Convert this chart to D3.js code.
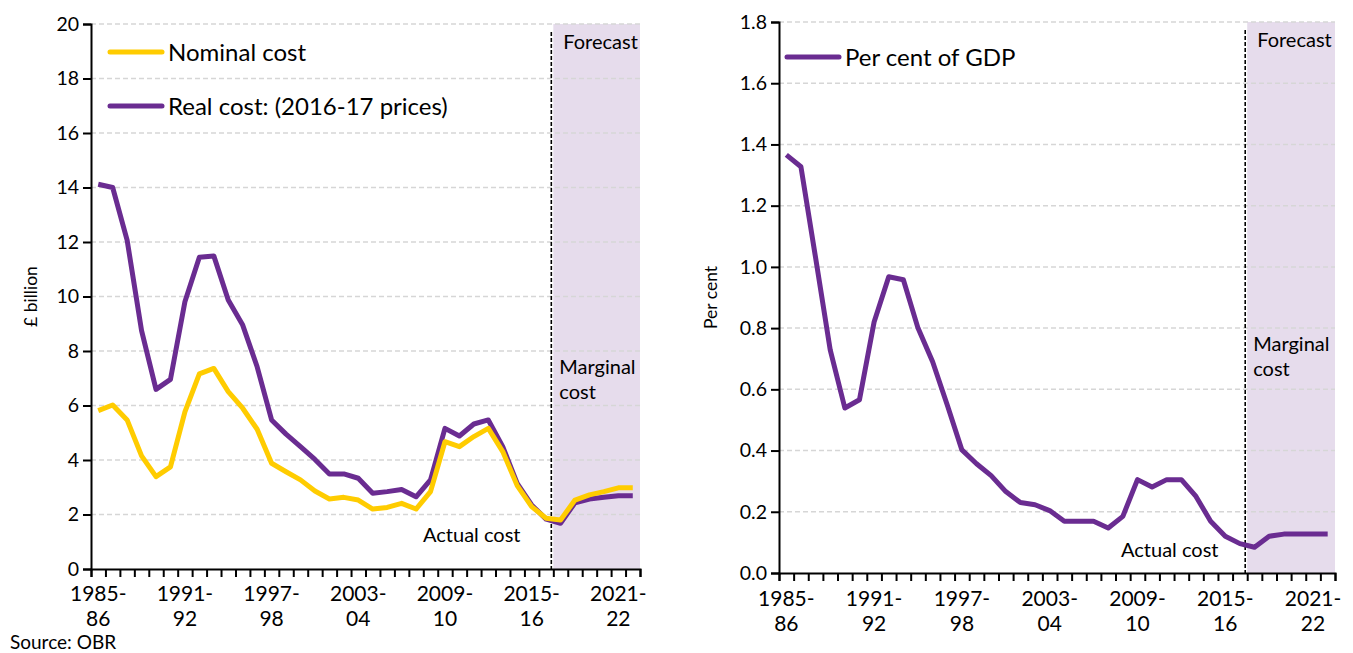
<!DOCTYPE html>
<html>
<head>
<meta charset="utf-8">
<script src="https://cdn.jsdelivr.net/npm/d3@7"></script>
<style>
  body { margin: 0; background: #fff; }
  svg text { font-family: Lato, "Noto Sans", sans-serif; fill: #000; }
</style>
</head>
<body>
<div id="chart"></div>
<script>
// Financial years shown on the x axis
const years = [
  '1985-86', '1986-87', '1987-88', '1988-89', '1989-90', '1990-91', '1991-92', '1992-93',
  '1993-94', '1994-95', '1995-96', '1996-97', '1997-98', '1998-99', '1999-00', '2000-01',
  '2001-02', '2002-03', '2003-04', '2004-05', '2005-06', '2006-07', '2007-08', '2008-09',
  '2009-10', '2010-11', '2011-12', '2012-13', '2013-14', '2014-15', '2015-16', '2016-17',
  '2017-18', '2018-19', '2019-20', '2020-21', '2021-22', '2022-23'
];
const labelledYears = ['1985-86', '1991-92', '1997-98', '2003-04', '2009-10', '2015-16', '2021-22'];
const forecastStart = '2017-18';

// £ billion
const nominalCost = [
  5.81, 6.02, 5.47, 4.15, 3.39, 3.75, 5.77, 7.16, 7.36, 6.51, 5.90, 5.13, 3.88, 3.57, 3.27, 2.86,
  2.57, 2.63, 2.53, 2.20, 2.26, 2.41, 2.20, 2.84, 4.67, 4.49, 4.86, 5.16, 4.31, 3.06, 2.29, 1.86,
  1.80, 2.53, 2.72, 2.84, 2.98, 2.98
];
const realCost = [
  14.12, 14.00, 12.07, 8.75, 6.59, 6.96, 9.81, 11.44, 11.49, 9.87, 8.95, 7.42, 5.47, 4.95, 4.49, 4.02,
  3.49, 3.49, 3.33, 2.78, 2.84, 2.92, 2.65, 3.27, 5.16, 4.88, 5.32, 5.47, 4.49, 3.14, 2.35, 1.83,
  1.68, 2.43, 2.57, 2.63, 2.69, 2.69
];
// per cent of GDP
const pctGDP = [
  1.366, 1.327, 1.03, 0.729, 0.539, 0.566, 0.82, 0.968, 0.958, 0.80, 0.69, 0.549, 0.402, 0.357, 0.318, 0.266,
  0.23, 0.223, 0.204, 0.169, 0.169, 0.169, 0.147, 0.185, 0.305, 0.281, 0.305, 0.305, 0.25, 0.169, 0.12, 0.096,
  0.084, 0.12, 0.127, 0.127, 0.127, 0.127
];

const leftTicks = [0, 2, 4, 6, 8, 10, 12, 14, 16, 18, 20];
const rightTicks = [0, 0.2, 0.4, 0.6, 0.8, 1.0, 1.2, 1.4, 1.6, 1.8];

const purple = '#6a2c91';
const yellow = '#ffcc00';
const shade = '#e6dcec';

const svg = d3.select('#chart').append('svg')
  .attr('width', 1353)
  .attr('height', 653);

function drawPanel(cfg) {
  const x = d3.scaleBand().domain(years).range([cfg.x0, cfg.x1]).paddingInner(0).paddingOuter(0);
  const xb = d3.scaleLinear().domain([0, years.length]).range([cfg.x0, cfg.x1]);
  const y = d3.scaleLinear().domain(cfg.yDomain).range([cfg.y1, cfg.y0]);
  const g = svg.append('g');

  // forecast shading
  const fx = xb(years.indexOf(forecastStart));
  g.append('rect')
    .attr('x', fx).attr('y', cfg.y0)
    .attr('width', cfg.x1 - fx).attr('height', cfg.y1 - cfg.y0)
    .style('fill', shade);

  // gridlines
  g.selectAll('.grid')
    .data(cfg.ticks.filter(t => t > 0))
    .enter().append('line')
    .attr('x1', cfg.x0).attr('x2', cfg.x1)
    .attr('y1', d => y(d)).attr('y2', d => y(d))
    .style('stroke', '#d6d6d6')
    .style('stroke-width', 1.5)
    .style('stroke-dasharray', '5,3');

  // forecast divider
  g.append('line')
    .attr('x1', fx - 2).attr('x2', fx - 2)
    .attr('y1', cfg.y0 + 8).attr('y2', cfg.y1)
    .style('stroke', '#000')
    .style('stroke-width', 1.6)
    .style('stroke-dasharray', '4,2');

  // y axis
  const yAxis = d3.axisLeft(y)
    .tickValues(cfg.ticks)
    .tickSize(8)
    .tickPadding(4)
    .tickFormat(cfg.fmt);
  const ya = g.append('g')
    .attr('transform', `translate(${cfg.x0},0)`)
    .call(yAxis);
  ya.select('.domain').style('stroke', '#000').style('stroke-width', 2);
  ya.selectAll('.tick line').style('stroke', '#000').style('stroke-width', 2);
  ya.selectAll('.tick text').style('font-size', '19.5px').style('font-family', 'Lato, sans-serif');

  // x axis: ticks on band boundaries
  const xAxis = d3.axisBottom(xb)
    .tickValues(d3.range(years.length + 1))
    .tickSize(8)
    .tickFormat('');
  const xa = g.append('g')
    .attr('transform', `translate(0,${cfg.y1})`)
    .call(xAxis);
  xa.select('.domain').style('stroke', '#000').style('stroke-width', 2);
  xa.selectAll('.tick line').style('stroke', '#000').style('stroke-width', 2);

  // two-line category labels, one text element per line
  const cx = d => x(d) + x.bandwidth() / 2;
  g.selectAll('.xlabel1')
    .data(labelledYears)
    .enter().append('text')
    .attr('x', cx)
    .attr('y', cfg.y1 + cfg.labelDy)
    .attr('text-anchor', 'middle')
    .style('font-size', '21px')
    .text(d => d.slice(0, 5));
  g.selectAll('.xlabel2')
    .data(labelledYears)
    .enter().append('text')
    .attr('x', cx)
    .attr('y', cfg.y1 + cfg.labelDy + 25)
    .attr('text-anchor', 'middle')
    .style('font-size', '21px')
    .text(d => d.slice(5));

  // y axis title
  g.append('text')
    .attr('transform', `translate(${cfg.titleX},${(cfg.y0 + cfg.y1) / 2}) rotate(-90)`)
    .attr('text-anchor', 'middle')
    .style('font-size', '17.5px')
    .text(cfg.title);

  // series
  const line = d3.line()
    .x((d, i) => x(years[i]) + x.bandwidth() / 2)
    .y(d => y(d));
  cfg.series.forEach(s => {
    g.append('path')
      .datum(s.values)
      .attr('d', line)
      .style('fill', 'none')
      .style('stroke', s.color)
      .style('stroke-width', 5)
      .style('stroke-linejoin', 'round');
  });

  // legend
  cfg.series.slice().reverse().forEach((s, i) => {
    const ly = cfg.legendY + i * cfg.legendStep;
    g.append('line')
      .attr('x1', cfg.x0 + cfg.legendX).attr('x2', cfg.x0 + cfg.legendX + 52)
      .attr('y1', ly).attr('y2', ly)
      .style('stroke', s.color)
      .style('stroke-width', 5)
      .style('stroke-linecap', 'round');
    g.append('text')
      .attr('x', cfg.x0 + cfg.legendX + 58)
      .attr('y', ly + 9)
      .style('font-size', '24px')
      .text(s.name);
  });

  // annotations
  g.append('text').attr('x', fx + 10).attr('y', cfg.y0 + 25)
    .style('font-size', '20px').text('Forecast');
  g.append('text').attr('x', fx + 6).attr('y', cfg.marginalY)
    .style('font-size', '20px').text('Marginal');
  g.append('text').attr('x', fx + 6).attr('y', cfg.marginalY + 25)
    .style('font-size', '20px').text('cost');
  g.append('text').attr('x', cfg.actualX).attr('y', cfg.y1 - cfg.actualDy)
    .style('font-size', '20px').text('Actual cost');
}

drawPanel({
  x0: 91, x1: 640, y0: 24, y1: 569,
  yDomain: [0, 20], ticks: leftTicks, fmt: d3.format('d'),
  title: '£ billion', titleX: 37,
  series: [
    { name: 'Real cost: (2016-17 prices)', values: realCost, color: purple },
    { name: 'Nominal cost', values: nominalCost, color: yellow }
  ],
  legendX: 19, legendY: 52, legendStep: 54,
  labelDy: 32,
  marginalY: 374, actualX: 423, actualDy: 27
});

drawPanel({
  x0: 779, x1: 1335, y0: 22, y1: 573,
  yDomain: [0, 1.8], ticks: rightTicks, fmt: d3.format('.1f'),
  title: 'Per cent', titleX: 717,
  series: [
    { name: 'Per cent of GDP', values: pctGDP, color: purple }
  ],
  legendX: 8, legendY: 57, legendStep: 54,
  labelDy: 33,
  marginalY: 351, actualX: 1121, actualDy: 16
});

svg.append('text')
  .attr('x', 10).attr('y', 648.5)
  .style('font-size', '19px')
  .text('Source: OBR');
</script>
</body>
</html>
